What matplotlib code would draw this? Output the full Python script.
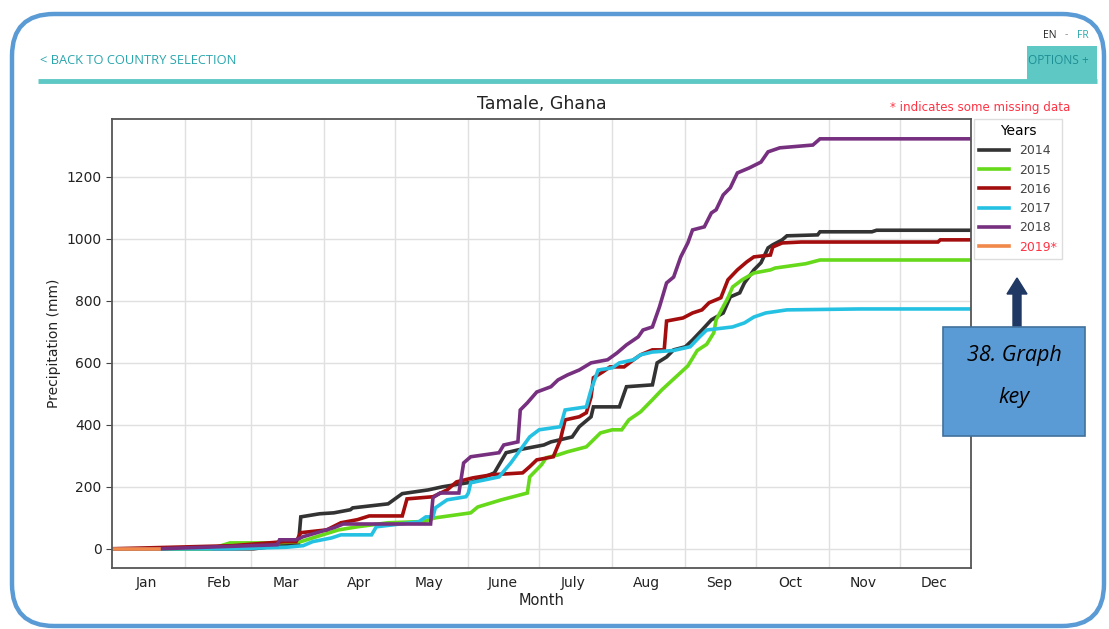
import numpy as np
import matplotlib as mpl
mpl.use("Agg")
import matplotlib.pyplot as plt
from matplotlib.patches import FancyBboxPatch, Rectangle, FancyArrow

# month layout (day of year, 0-indexed)
month_names = ['Jan', 'Feb', 'Mar', 'Apr', 'May', 'June', 'July', 'Aug', 'Sep', 'Oct', 'Nov', 'Dec']
month_starts = [0, 31, 59, 90, 120, 151, 181, 212, 243, 273, 304, 334]

years = ['2014', '2015', '2016', '2017', '2018', '2019*']
colors = ['#333333', '#66d91a', '#a30d0d', '#25c1e3', '#76307f', '#f0894a']

# cumulative rainfall (day, mm)
days_2014 = [0, 60, 74, 79, 80, 88, 94, 101, 102, 117, 123, 134, 140, 153, 162, 167, 172, 183, 186,
             195, 198, 203, 204, 215, 218, 229, 231, 235, 238, 243, 246, 250, 254, 259, 262, 266,
             268, 272, 275, 278, 280, 284, 286, 299, 300, 322, 324, 364]
mm_2014 = [0, 0, 13, 13, 103, 113, 116, 126, 132, 145, 178, 190, 200, 216, 245, 310, 319, 335, 345,
           361, 394, 426, 458, 458, 523, 529, 600, 619, 642, 652, 674, 706, 739, 761, 813, 826,
           858, 900, 923, 971, 981, 997, 1010, 1013, 1023, 1023, 1028, 1028]

days_2015 = [0, 42, 50, 68, 80, 85, 96, 104, 117, 132, 137, 152, 155, 165, 170, 176, 177, 182, 184,
             189, 193, 201, 207, 212, 216, 219, 224, 229, 233, 239, 244, 248, 252, 255, 256, 261,
             263, 267, 272, 279, 281, 294, 300, 364]
mm_2015 = [0, 0, 19, 19, 23, 35, 61, 71, 84, 88, 100, 116, 135, 158, 168, 180, 232, 271, 294,
           303, 313, 329, 374, 384, 384, 416, 442, 481, 513, 555, 590, 640, 660, 697, 739, 810,
           845, 868, 890, 900, 906, 920, 932, 932]

days_2016 = [0, 51, 73, 78, 80, 91, 97, 104, 109, 123, 125, 136, 142, 146, 153, 161, 174, 177, 180,
             187, 190, 192, 198, 201, 203, 204, 208, 211, 217, 221, 224, 229, 234, 235, 242, 246,
             250, 253, 258, 261, 265, 269, 272, 279, 280, 284, 292, 350, 351, 364]
mm_2016 = [0, 10, 23, 23, 52, 61, 84, 94, 106, 106, 161, 168, 190, 216, 229, 239, 245, 265, 287,
           297, 352, 416, 426, 439, 490, 552, 571, 587, 587, 610, 626, 642, 642, 735, 745, 761,
           771, 794, 810, 868, 900, 926, 942, 948, 974, 987, 990, 990, 997, 997]

days_2017 = [0, 50, 74, 81, 85, 93, 97, 110, 112, 130, 133, 136, 137, 142, 150, 151, 152, 164, 169,
             173, 177, 181, 190, 192, 201, 203, 206, 212, 215, 221, 224, 229, 238, 245, 249, 252,
             263, 268, 272, 277, 286, 317, 364]
mm_2017 = [0, 0, 5, 10, 23, 35, 45, 45, 71, 87, 103, 103, 132, 158, 168, 180, 213, 232, 277,
           319, 361, 384, 394, 448, 458, 513, 577, 584, 600, 610, 626, 635, 640, 652, 684, 706,
           716, 729, 748, 761, 771, 774, 774]

days_2018 = [0, 20, 70, 71, 78, 81, 94, 98, 135, 136, 139, 147, 149, 152, 164, 166, 172, 173, 176,
             180, 186, 189, 193, 198, 203, 210, 214, 218, 223, 225, 229, 232, 235, 238, 241, 244,
             246, 251, 254, 256, 259, 262, 265, 270, 275, 278, 283, 297, 300, 364]
mm_2018 = [0, 0, 13, 29, 29, 39, 68, 80, 80, 165, 180, 180, 277, 297, 310, 335, 345, 448, 471,
           506, 523, 545, 561, 577, 600, 610, 632, 658, 684, 706, 716, 781, 858, 877, 942, 987,
           1029, 1039, 1084, 1094, 1142, 1165, 1213, 1229, 1248, 1281, 1294, 1303, 1323, 1323]

days_2019 = [0, 20]
mm_2019 = [0, 0]

all_days = [days_2014, days_2015, days_2016, days_2017, days_2018, days_2019]
all_mm = [mm_2014, mm_2015, mm_2016, mm_2017, mm_2018, mm_2019]

W, H = 1109, 629
fig = plt.figure(figsize=(W / 100, H / 100), dpi=100)
fig.patch.set_facecolor('white')

ax = fig.add_axes([112 / W, 1 - 568 / H, (971 - 112) / W, (568 - 119) / H])

lines = []
for d, v, c in zip(all_days, all_mm, colors):
    l, = ax.plot(d, v, color=c, linewidth=2.6, solid_joinstyle='miter')
    lines.append(l)

ax.set_xlim(0, 364)
ax.set_ylim(-62, 1387)
ax.set_yticks([0, 200, 400, 600, 800, 1000, 1200])
ax.set_xticks(month_starts[1:])
ax.set_xticklabels([])
ax.set_xticks([s + 14.5 for s in month_starts], minor=True)
ax.set_xticklabels(month_names, minor=True)
ax.tick_params(axis='x', which='both', length=0, labelsize=10, colors='#222222', pad=6)
ax.tick_params(axis='y', length=4, labelsize=10, colors='#222222', color='#444444')
ax.grid(True, which='major', color='#e0e0e0', linewidth=1)
ax.set_axisbelow(True)
for s in ax.spines.values():
    s.set_color('#555555')
    s.set_linewidth(1.3)

ax.set_xlabel('Month', fontsize=10.5, color='#222222', labelpad=2)
ax.set_ylabel('Precipitation (mm)', fontsize=10, color='#222222')
ax.set_title('Tamale, Ghana', fontsize=12.5, color='#222222', pad=7)

leg = ax.legend(lines, years, title='Years', loc='upper left', bbox_to_anchor=(1.004, 1.0),
                fontsize=9, title_fontsize=10, handlelength=2.4, labelspacing=0.5,
                borderaxespad=0, framealpha=1, edgecolor='#dddddd', fancybox=False)
for t in leg.get_texts():
    t.set_color('#444444')
leg.get_texts()[-1].set_color('#ff3344')

fig.text(1070 / W, 1 - 108 / H, '* indicates some missing data', color='#ff3344',
         fontsize=8.6, ha='right', va='center')

# page decoration overlay (screenshot frame, header, callout)
deco = fig.add_axes([0, 0, 1, 1], zorder=10)
deco.set_xlim(0, W)
deco.set_ylim(H, 0)
deco.axis('off')
deco.patch.set_alpha(0)

deco.add_patch(FancyBboxPatch((12, 14), 1092, 612, boxstyle='round,pad=0,rounding_size=42',
                              facecolor='none', edgecolor='#5b9bd5', linewidth=3.2))
deco.add_patch(Rectangle((1027, 46), 70, 34, facecolor='#5ec8c4', edgecolor='none'))
deco.plot([38, 1097], [80.5, 80.5], color='#5ec8c4', linewidth=3.5, solid_capstyle='butt')
deco.text(40, 61, '< BACK TO COUNTRY SELECTION', color='#2aa6ad', fontsize=9.3,
          family='Open Sans', va='center', ha='left')
deco.text(1028, 61, 'OPTIONS +', color='#1f8f96', fontsize=8.6, family='Open Sans',
          va='center', ha='left')
deco.text(1056, 35, 'EN', color='#222222', fontsize=7.5, family='Open Sans', va='center', ha='right')
deco.text(1066, 35, '-', color='#888888', fontsize=7.5, family='Open Sans', va='center', ha='center')
deco.text(1077, 35, 'FR', color='#2aa6ad', fontsize=7.5, family='Open Sans', va='center', ha='left')

deco.add_patch(FancyArrow(1017, 327, 0, -49, width=8, head_width=20, head_length=16,
                          length_includes_head=True, color='#1f3864'))
deco.add_patch(Rectangle((943, 327), 142, 109, facecolor='#5b9bd5', edgecolor='#41719c',
                         linewidth=1.2))
deco.text(1014, 355, '38. Graph', fontsize=15.5, style='italic', family='Open Sans',
          color='black', ha='center', va='center')
deco.text(1014, 397, 'key', fontsize=15.5, style='italic', family='Open Sans',
          color='black', ha='center', va='center')

fig.savefig('out.png', dpi=100)
